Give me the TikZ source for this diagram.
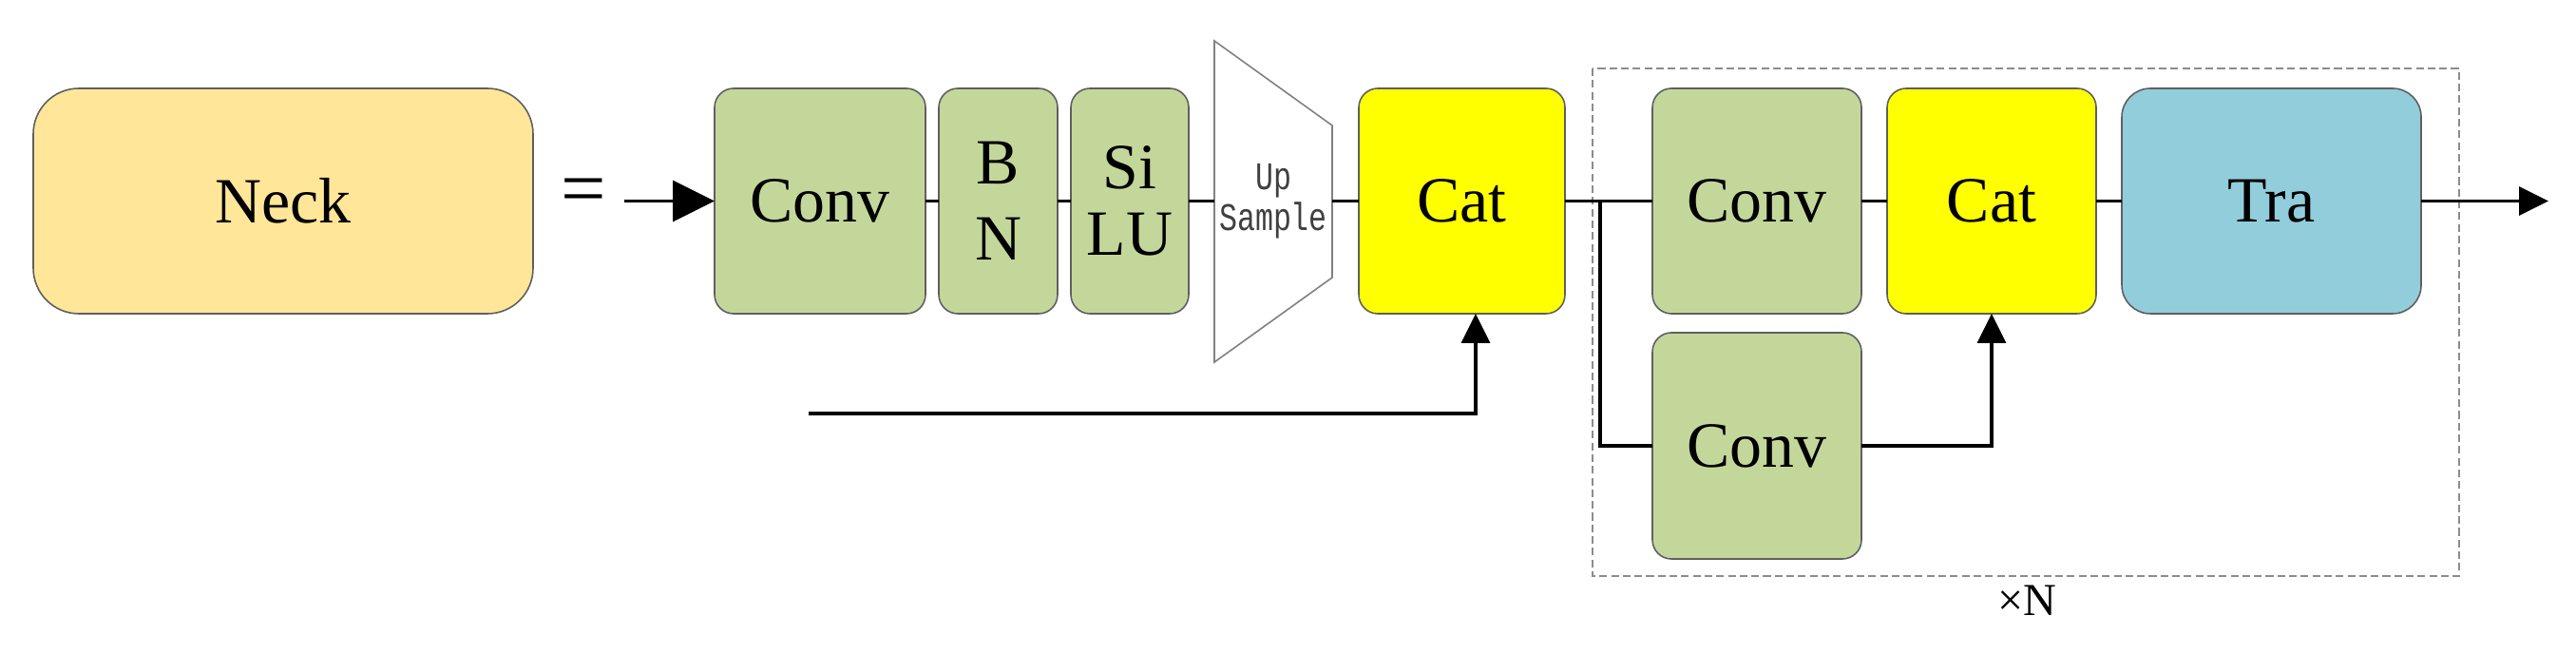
\documentclass[tikz,border=0pt]{standalone}
\usepackage{fontspec}
\setmainfont{Liberation Serif}
\newfontfamily\upfont{Liberation Mono}
\usetikzlibrary{arrows.meta}
\definecolor{neckfill}{RGB}{255,230,153}
\definecolor{convfill}{RGB}{196,215,155}
\definecolor{catfill}{RGB}{255,255,0}
\definecolor{trafill}{RGB}{146,205,220}
\definecolor{boxline}{RGB}{95,95,95}
\definecolor{repline}{RGB}{140,140,140}
\newcommand{\tallmono}[1]{\scalebox{1}[1.3]{#1}}

\begin{document}
\begin{tikzpicture}[scale=1,inner sep=0pt,outer sep=0pt,line width=1pt,
>={Triangle[length=8.8pt,width=8.5pt]},
block/.style={draw=boxline,line width=0.45pt,rounded corners=0.2cm,minimum height=2.37cm,align=center,font=\fontsize{19.3}{22.8}\selectfont},
convblock/.style={block,fill=convfill},
catblock/.style={block,fill=catfill}]
\useasboundingbox (0,0) rectangle (27.11,-6.88);

% repeated part
\draw[repline,line width=0.7pt,dash pattern=on 2.3pt off 1.2pt] (16.76,-0.72) rectangle (25.88,-6.06);
\draw (21.33,-6.32) node[font=\fontsize{13.7}{16}\selectfont] (times) {×N};

\draw (2.98,-2.115) node[block,fill=neckfill,rounded corners=0.48cm,minimum width=5.26cm] (neck) {Neck};
\draw (6.14,-2.07) node[font=\fontsize{24}{24}\selectfont] (eq) {=};
\coordinate (in) at (6.57,-2.115);

\draw (8.63,-2.115) node[convblock,minimum width=2.22cm] (conv1) {Conv};
\draw (10.505,-2.115) node[convblock,minimum width=1.25cm] (bn) {B\\N};
\draw (11.89,-2.115) node[convblock,minimum width=1.24cm] (silu) {Si\\[-2.8pt]LU};

% up sample
\draw[fill=white,draw=gray,line width=0.45pt] (12.78,-0.43) -- (14.02,-1.32) -- (14.02,-2.92) -- (12.78,-3.81) -- cycle;
\draw (13.40,-2.115) node[align=center,text=black!75,font=\upfont\fontsize{9}{12.2}\selectfont] (up) {\tallmono{Up}\\\tallmono{Sample}};
\coordinate (up-w) at (12.78,-2.115);
\coordinate (up-e) at (14.02,-2.115);

\draw (15.385,-2.115) node[catblock,minimum width=2.17cm] (cat1) {Cat};
\draw (18.49,-2.115) node[convblock,minimum width=2.2cm] (conv2) {Conv};
\draw (18.49,-4.69) node[convblock,minimum width=2.2cm,minimum height=2.38cm] (conv3) {Conv};
\draw (20.96,-2.115) node[catblock,minimum width=2.2cm] (cat2) {Cat};
\draw (23.905,-2.115) node[block,fill=trafill,rounded corners=0.3cm,minimum width=3.15cm] (tra) {Tra};
\coordinate (out) at (26.82,-2.115);
\coordinate (branch) at (16.84,-2.115);
\coordinate (low) at (8.51,-4.35);

\draw[->,>={Triangle[length=12.5pt,width=12.2pt]}] (in) -- (conv1);
\draw (conv1) -- (bn);
\draw (bn) -- (silu);
\draw (silu) -- (up-w);
\draw (up-e) -- (cat1);
\draw (cat1) -- (conv2);
\draw (conv2) -- (cat2);
\draw (cat2) -- (tra);
\draw[->] (tra) -- (out);
\draw (branch) |- (conv3);
\draw[->] (conv3) -| (cat2);
\draw[->] (low) -| ([xshift=0.145cm]cat1.south);
\end{tikzpicture}
\end{document}
